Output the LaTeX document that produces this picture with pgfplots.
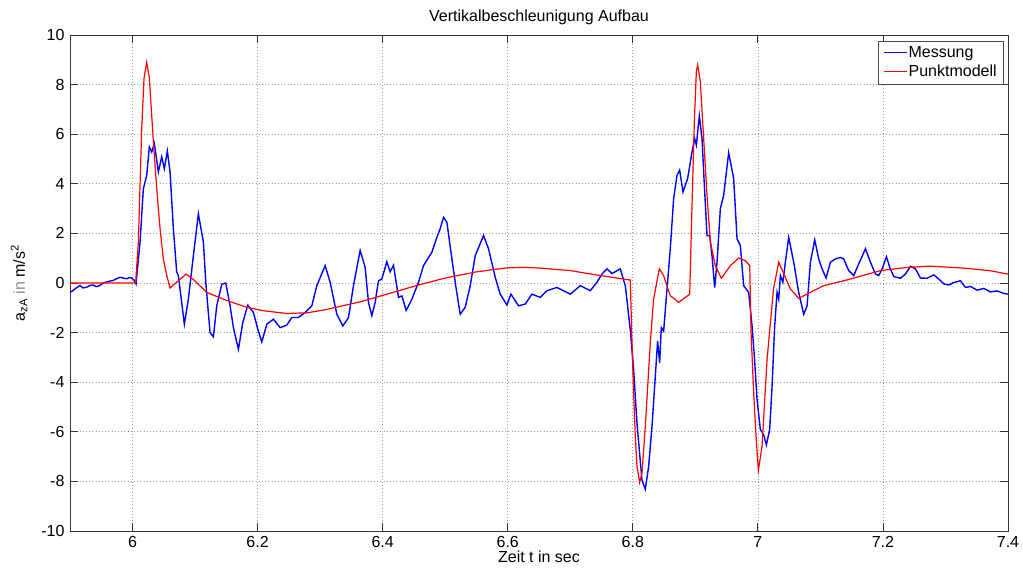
\documentclass[border=0pt]{standalone}
\usepackage{fontspec}
\setmainfont{Liberation Sans}
\usepackage{pgfplots}
\pgfplotsset{compat=1.18}
\begin{document}
\fontsize{16}{19}\selectfont
\begin{tikzpicture}
\begin{axis}[
  scale only axis, width=938pt, height=496pt,
  xmin=5.9, xmax=7.4, ymin=-10, ymax=10,
  xtick={6,6.2,6.4,6.6,6.8,7,7.2,7.4},
  xticklabels={6,6.2,6.4,6.6,6.8,7,7.2,7.4},
  ytick={-10,-8,-6,-4,-2,0,2,4,6,8,10},
  yticklabels={-10,-8,-6,-4,-2,0,2,4,6,8,10},
  tick label style={font=\fontsize{16}{19}\selectfont},
  grid=major,
  major grid style={gray!75, line width=0.7pt, dash pattern=on 1pt off 2.2pt},
  tick align=inside, major tick length=8pt,
  axis line style={black!80, line width=0.8pt},
  every tick/.style={black!80, line width=0.8pt},
  every axis title shift=0pt,
  title={Vertikalbeschleunigung Aufbau},
  title style={at={(axis description cs:0.5,1.0262)}, anchor=base, font=\fontsize{16}{19}\selectfont},
  xlabel={Zeit t in sec},
  xlabel style={at={(axis description cs:0.5,-0.064)}, anchor=base, font=\fontsize{16}{19}\selectfont},
  ylabel={a\textsubscript{zA} {\color{black!45}in} m/s\textsuperscript{2}},
  ylabel style={at={(axis description cs:-0.0395,0.5)}, anchor=south, font=\fontsize{16}{19}\selectfont},
  legend style={at={(axis description cs:0.9957,0.988)}, anchor=north east,
    font=\fontsize{16}{19}\selectfont, draw=black!70, line width=0.6pt,
    inner xsep=5pt, inner ysep=3.5pt, row sep=1pt, cells={anchor=west}},
]
\addplot[blue, line width=1.4pt,
  legend image code/.code={\node[inner sep=0pt, anchor=west] at (0pt,0pt) {\textcolor{blue}{\rule[-0.5pt]{23pt}{1pt}}};}] coordinates {
(5.9,-0.38) (5.905,-0.3) (5.91,-0.2) (5.916,-0.1) (5.921,-0.2) (5.9267,-0.17)
(5.932,-0.1) (5.937,-0.08) (5.942,-0.15) (5.948,-0.1) (5.953,0.0) (5.9587,0.04)
(5.964,0.08) (5.969,0.1) (5.975,0.18) (5.98,0.23) (5.985,0.2) (5.9907,0.17)
(5.995,0.22) (5.9987,0.2) (6.003,0.1) (6.0056,-0.04) (6.012,1.65) (6.0173,3.8)
(6.0227,4.34) (6.0269,5.49) (6.0307,5.28) (6.0349,5.63) (6.0413,4.48) (6.0467,5.09)
(6.0509,4.61) (6.0557,5.32) (6.06,4.48) (6.0653,2.19) (6.0707,0.43) (6.0733,0.3)
(6.0829,-1.66) (6.0893,-0.65) (6.0973,1.1) (6.1053,2.79) (6.1133,1.65) (6.1171,0.03)
(6.124,-2.0) (6.1293,-2.17) (6.1347,-0.92) (6.1427,-0.05) (6.1491,0.0) (6.156,-0.92)
(6.1613,-1.8) (6.1693,-2.67) (6.1763,-1.6) (6.1843,-0.89) (6.1933,-1.19) (6.2003,-1.86)
(6.2067,-2.38) (6.2147,-1.66) (6.2253,-1.46) (6.236,-1.8) (6.2467,-1.7) (6.2547,-1.39)
(6.2653,-1.39) (6.276,-1.19) (6.2867,-0.92) (6.2947,-0.11) (6.308,0.7) (6.316,0.03)
(6.3267,-1.26) (6.3363,-1.73) (6.3453,-1.4) (6.3533,-0.11) (6.364,1.31) (6.372,0.63)
(6.3773,-0.78) (6.3827,-1.32) (6.388,-0.78) (6.3933,0.09) (6.3987,0.16) (6.4067,0.86)
(6.412,0.45) (6.4173,0.72) (6.4253,-0.58) (6.4307,-0.52) (6.4376,-1.11) (6.4467,-0.65)
(6.4573,0.03) (6.4653,0.7) (6.4787,1.24) (6.4867,1.84) (6.492,2.19) (6.4973,2.65)
(6.5027,2.45) (6.5107,0.97) (6.5176,-0.24) (6.524,-1.26) (6.532,-0.98) (6.54,-0.11)
(6.548,1.1) (6.5613,1.91) (6.5693,1.38) (6.58,0.23) (6.588,-0.45) (6.5987,-0.89)
(6.6051,-0.45) (6.6173,-0.92) (6.628,-0.85) (6.6387,-0.45) (6.652,-0.58) (6.6627,-0.31)
(6.6787,-0.18) (6.7,-0.45) (6.716,-0.11) (6.732,-0.31) (6.7427,0.03) (6.7507,0.36)
(6.7587,0.57) (6.7667,0.38) (6.78,0.57) (6.788,-0.11) (6.796,-1.9) (6.8013,-3.49)
(6.8067,-5.65) (6.8109,-6.87) (6.8147,-7.95) (6.82,-8.32) (6.8253,-7.4) (6.8307,-5.79)
(6.836,-3.76) (6.8397,-2.34) (6.8429,-3.22) (6.8456,-1.8) (6.8493,-1.94) (6.8547,-0.24)
(6.86,1.4) (6.8653,3.4) (6.8707,4.34) (6.8749,4.55) (6.8803,3.67) (6.8877,4.21)
(6.8947,5.28) (6.8989,5.83) (6.9016,5.56) (6.9064,6.74) (6.9107,5.83) (6.9144,3.94)
(6.9187,1.91) (6.9229,1.91) (6.9267,1.1) (6.9309,-0.18) (6.9347,0.84) (6.94,3.0)
(6.9453,3.53) (6.9533,5.25) (6.9613,4.21) (6.9667,1.78) (6.972,1.51) (6.9773,-0.11)
(6.9853,-0.38) (6.9907,-1.73) (6.9944,-2.96) (6.9987,-4.7) (7.004,-5.91) (7.0093,-6.12)
(7.0136,-6.53) (7.0189,-5.91) (7.0227,-4.16) (7.0269,-1.73) (7.0307,-0.38) (7.0333,-0.65)
(7.036,0.3) (7.04,0.03) (7.044,0.84) (7.0493,1.84) (7.0573,0.84) (7.0653,-0.38)
(7.0733,-1.26) (7.0787,-0.92) (7.084,0.84) (7.0909,1.74) (7.0973,0.97) (7.1027,0.57)
(7.1091,0.2) (7.116,0.84) (7.124,0.97) (7.132,1.03) (7.1373,0.97) (7.1453,0.5)
(7.1533,0.3) (7.1613,0.77) (7.172,1.38) (7.18,0.84) (7.188,0.36) (7.1933,0.3)
(7.1987,0.57) (7.2056,1.06) (7.2109,0.63) (7.2173,0.26) (7.228,0.19) (7.236,0.36)
(7.244,0.67) (7.252,0.57) (7.26,0.2) (7.2707,0.19) (7.2813,0.33) (7.2893,0.16)
(7.2973,-0.04) (7.3053,-0.08) (7.3133,0.02) (7.324,0.09) (7.332,-0.18) (7.34,-0.14)
(7.3507,-0.29) (7.3613,-0.22) (7.372,-0.36) (7.3827,-0.32) (7.3933,-0.42) (7.4,-0.45)
};
\addlegendentry{Messung}
\addplot[red, line width=1.2pt,
  legend image code/.code={\node[inner sep=0pt, anchor=west] at (0pt,0pt) {\textcolor{red}{\rule[-0.5pt]{23pt}{1pt}}};}] coordinates {
(5.9,0) (6.0,0) (6.005,0.02) (6.0093,1.65) (6.0147,6.23) (6.0184,8.26) (6.0227,8.9)
(6.0269,8.26) (6.033,5.83) (6.0387,3.8) (6.044,2.19) (6.0493,0.97) (6.0547,0.3)
(6.06,-0.2) (6.0707,0.03) (6.0856,0.36) (6.097,0.15) (6.1187,-0.38) (6.15,-0.7)
(6.1827,-0.98) (6.21,-1.12) (6.2467,-1.23) (6.28,-1.2) (6.31,-1.07) (6.332,-0.94)
(6.364,-0.76) (6.4,-0.5) (6.4547,-0.1) (6.5,0.2) (6.55,0.45) (6.5987,0.61)
(6.625,0.63) (6.652,0.6) (6.7,0.5) (6.748,0.3) (6.7933,0.13) (6.796,0.12)
(6.7987,-2.4) (6.8013,-4.43) (6.804,-6.18) (6.8067,-7.4) (6.8109,-8.04) (6.8147,-7.67)
(6.82,-5.79) (6.828,-2.4) (6.8333,-0.65) (6.8424,0.57) (6.8493,0.3) (6.86,-0.51)
(6.8733,-0.78) (6.891,-0.45) (6.8947,3.13) (6.8984,6.5) (6.9016,8.52) (6.9037,8.8)
(6.908,8.12) (6.9133,5.83) (6.9187,3.53) (6.924,1.65) (6.932,0.7) (6.9416,0.19)
(6.956,0.7) (6.9693,1.01) (6.98,0.9) (6.987,0.7) (6.9891,-2.0) (6.9933,-4.43)
(6.9971,-6.18) (7.0008,-7.56) (7.0067,-6.58) (7.0147,-3.08) (7.025,-0.24) (7.0333,0.84)
(7.052,-0.24) (7.0653,-0.62) (7.0893,-0.31) (7.1053,-0.11) (7.148,0.16) (7.196,0.5)
(7.24,0.63) (7.276,0.68) (7.3293,0.6) (7.37,0.5) (7.4,0.36)
};
\addlegendentry{Punktmodell}
\end{axis}
\pgfresetboundingbox
\path[use as bounding box] ([shift={(-70pt,-38pt)}]current axis.south west) rectangle ([shift={(15pt,35pt)}]current axis.north east);
\end{tikzpicture}
\end{document}
